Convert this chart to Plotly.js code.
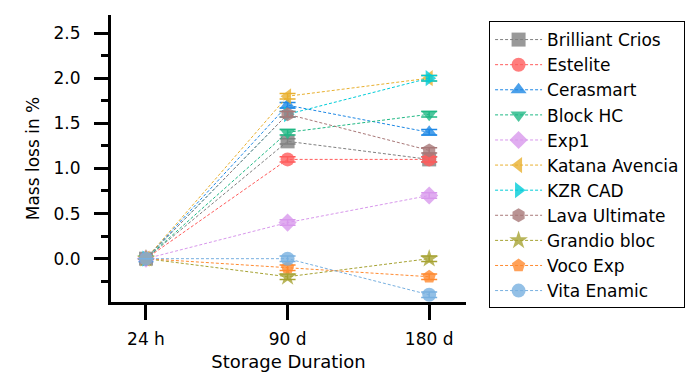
<!DOCTYPE html>
<html>
<head>
<meta charset="utf-8">
<script src="https://cdn.plot.ly/plotly-3.0.1.min.js"></script>
<style>html,body{margin:0;padding:0;background:#fff;}#chart{width:689px;height:372px;}</style>
</head>
<body>
<div id="chart"></div>
<script>
const durations = ["24 h", "90 d", "180 d"];
const seriesNames = ["Brilliant Crios","Estelite","Cerasmart","Block HC","Exp1","Katana Avencia","KZR CAD","Lava Ultimate","Grandio bloc","Voco Exp","Vita Enamic"];
const brilliantCrios = [0, 1.3, 1.1];
const estelite      = [0, 1.1, 1.1];
const cerasmart     = [0, 1.7, 1.4];
const blockHC       = [0, 1.4, 1.6];
const exp1          = [0, 0.4, 0.7];
const katanaAvencia = [0, 1.8, 2.0];
const kzrCAD        = [0, 1.6, 2.0];
const lavaUltimate  = [0, 1.6, 1.2];
const grandioBloc   = [0, -0.2, 0.0];
const vocoExp       = [0, -0.1, -0.2];
const vitaEnamic    = [0, 0.0, -0.4];
const errBrilliant = [0, 0.03, 0.03];
const errEstelite  = [0, 0.03, 0.03];
const errCerasmart = [0, 0.03, 0.03];
const errBlockHC   = [0, 0.03, 0.03];
const errExp1      = [0, 0.03, 0.03];
const errKatana    = [0, 0.03, 0.03];
const errKZR       = [0, 0.03, 0.03];
const errLava      = [0, 0.03, 0.03];
const errGrandio   = [0, 0.03, 0.03];
const errVoco      = [0, 0.03, 0.03];
const errVita      = [0, 0.03, 0.03];

const values = [brilliantCrios, estelite, cerasmart, blockHC, exp1, katanaAvencia, kzrCAD, lavaUltimate, grandioBloc, vocoExp, vitaEnamic];
const errs = [errBrilliant, errEstelite, errCerasmart, errBlockHC, errExp1, errKatana, errKZR, errLava, errGrandio, errVoco, errVita];
const colors = ["#808080","#ff5c5c","#1e88e5","#1fb884","#d898ec","#e8b030","#00ccd8","#a87878","#a6a232","#ff8a30","#78b0e0"];
const symbols = ["square","circle","triangle-up","triangle-down","diamond","triangle-left","triangle-right","hexagon","star","pentagon","circle"];

const traces = seriesNames.map((name, i) => ({
  type: "scatter",
  mode: "lines+markers",
  name: name,
  x: durations,
  y: values[i],
  line: {color: colors[i], width: 1, dash: "3px,2px"},
  marker: {symbol: symbols[i], size: 14, color: colors[i], opacity: 0.8, line: {width: 0}},
  error_y: {type: "data", array: errs[i], visible: true, color: colors[i], thickness: 1.5, width: 8}
}));

const layout = {
  width: 689, height: 372,
  paper_bgcolor: "#ffffff", plot_bgcolor: "#ffffff",
  margin: {l: 111, r: 223, t: 15, b: 70, autoexpand: false},
  font: {family: "DejaVu Sans", size: 17, color: "#000"},
  showlegend: true,
  xaxis: {
    type: "category",
    range: [-0.247, 2.26],
    showgrid: false, zeroline: false,
    showline: true, linecolor: "#000", linewidth: 3,
    ticks: "outside", ticklen: 15, tickwidth: 3, tickcolor: "#000",
    ticklabelstandoff: 5,
    tickfont: {family: "DejaVu Sans", size: 17, color: "#000"},
    title: {text: "Storage Duration", font: {family: "DejaVu Sans", size: 18, color: "#000"}, standoff: 7}
  },
  yaxis: {
    range: [-0.48, 2.7],
    tickvals: [0, 0.5, 1.0, 1.5, 2.0, 2.5],
    ticktext: ["0.0", "0.5", "1.0", "1.5", "2.0", "2.5"],
    showgrid: false, zeroline: false,
    showline: true, linecolor: "#000", linewidth: 3,
    ticks: "outside", ticklen: 14, tickwidth: 3, tickcolor: "#000",
    ticklabelstandoff: 10,
    minor: {tickvals: [-0.25, 0.25, 0.75, 1.25, 1.75, 2.25], ticks: "outside", ticklen: 7, tickwidth: 3, tickcolor: "#000"},
    tickfont: {family: "DejaVu Sans", size: 17, color: "#000"},
    title: {text: "Mass loss in %", font: {family: "DejaVu Sans", size: 17, color: "#000"}, standoff: 10}
  },
  legend: {
    x: 1.065, xanchor: "left", y: 0.979, yanchor: "top",
    bordercolor: "#000", borderwidth: 1, bgcolor: "#fff",
    font: {family: "DejaVu Sans", size: 17, color: "#000"},
    itemwidth: 47, tracegroupgap: 0
  }
};

Plotly.newPlot("chart", traces, layout, {displayModeBar: false, staticPlot: true});
</script>
</body>
</html>
